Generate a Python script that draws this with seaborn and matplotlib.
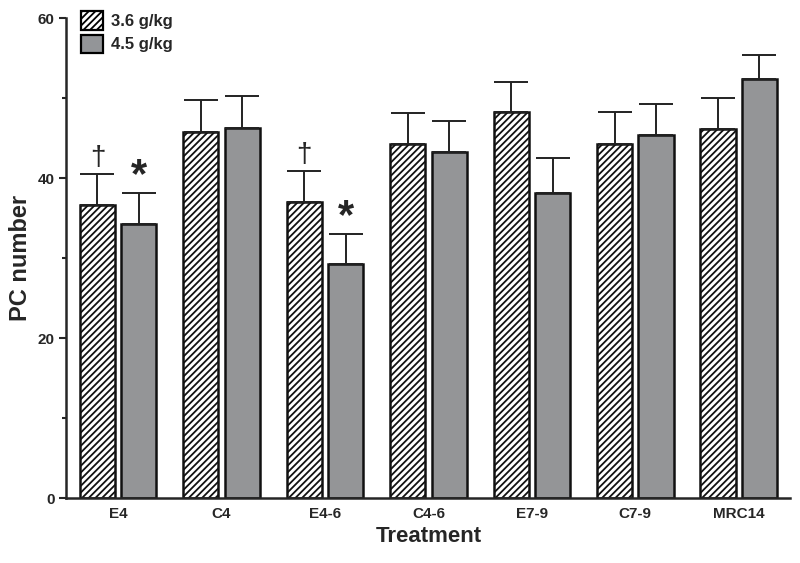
import numpy as np
import pandas as pd
import matplotlib
matplotlib.use("Agg")
import matplotlib.pyplot as plt
import seaborn as sns
from matplotlib.patches import Patch

# Data
treatments = ["E4", "C4", "E4-6", "C4-6", "E7-9", "C7-9", "MRC14"]
dose_labels = ["3.6 g/kg", "4.5 g/kg"]
mean_low = [36.6, 45.8, 37.0, 44.3, 48.2, 44.3, 46.1]
mean_high = [34.3, 46.2, 29.3, 43.3, 38.2, 45.4, 52.4]
sem_low = [3.9, 3.9, 3.9, 3.8, 3.8, 3.9, 3.9]
sem_high = [3.8, 4.0, 3.7, 3.8, 4.3, 3.9, 3.0]
marks_low = ["\u2020", "", "\u2020", "", "", "", ""]
marks_high = ["*", "", "*", "", "", "", ""]

df = pd.DataFrame({
    "Treatment": treatments * 2,
    "Dose": [dose_labels[0]] * len(treatments) + [dose_labels[1]] * len(treatments),
    "PC": mean_low + mean_high,
})

sns.set_style("ticks")
plt.rcParams["font.family"] = ["Liberation Sans", "DejaVu Sans"]
plt.rcParams["hatch.linewidth"] = 1.3

fig, ax = plt.subplots(figsize=(8, 5.63), dpi=100)
fig.subplots_adjust(left=0.083, right=0.988, bottom=0.115, top=0.968)

gray = "#939598"
sns.barplot(data=df, x="Treatment", y="PC", hue="Dose", order=treatments,
            hue_order=dose_labels, palette=["white", gray], errorbar=None,
            gap=0.15, edgecolor="#111111", linewidth=1.8, legend=False, ax=ax)

n = len(treatments)
bars = ax.patches[:2 * n]
for i, b in enumerate(bars):
    if i < n:
        b.set_hatch("/////")

errs = sem_low + sem_high
means = mean_low + mean_high
marks = marks_low + marks_high
for b, m, e, mk in zip(bars, means, errs, marks):
    xc = b.get_x() + b.get_width() / 2
    ax.errorbar(xc, m, yerr=[[0], [e]], fmt="none", ecolor="#222222",
                elinewidth=1.4, capsize=12, capthick=1.4, zorder=1)
    if mk == "*":
        ax.text(xc, m + e - 0.4, mk, ha="center", va="bottom",
                fontsize=30, fontweight="bold")
    elif mk:
        ax.text(xc, m + e + 0.4, mk, ha="center", va="bottom", fontsize=20)

ax.set_ylim(0, 60)
ax.set_xlim(-0.5, n - 0.5)
ax.set_yticks([0, 20, 40, 60])
ax.set_yticks([10, 30, 50], minor=True)
ax.tick_params(axis="y", which="major", length=5, width=1.5, labelsize=11)
ax.tick_params(axis="y", which="minor", length=3, width=1.5)
ax.tick_params(axis="x", length=0, labelsize=11, pad=6)
for lbl in ax.get_xticklabels() + ax.get_yticklabels():
    lbl.set_fontweight("bold")

ax.set_xlabel("Treatment", fontsize=16, fontweight="bold", labelpad=4)
ax.set_ylabel("PC number", fontsize=17, fontweight="bold", labelpad=4)

for s in ["left", "bottom"]:
    ax.spines[s].set_linewidth(1.8)
sns.despine(ax=ax)

handles = [Patch(facecolor="white", edgecolor="black", hatch="/////", linewidth=1.6),
           Patch(facecolor=gray, edgecolor="black", linewidth=1.6)]
leg = ax.legend(handles, dose_labels, loc="upper left", bbox_to_anchor=(0.0, 1.045),
                frameon=False, handlelength=1.3, handleheight=1.3,
                prop={"weight": "bold", "size": 12}, labelspacing=0.3,
                handletextpad=0.5)

fig.savefig("out.png", dpi=100)
